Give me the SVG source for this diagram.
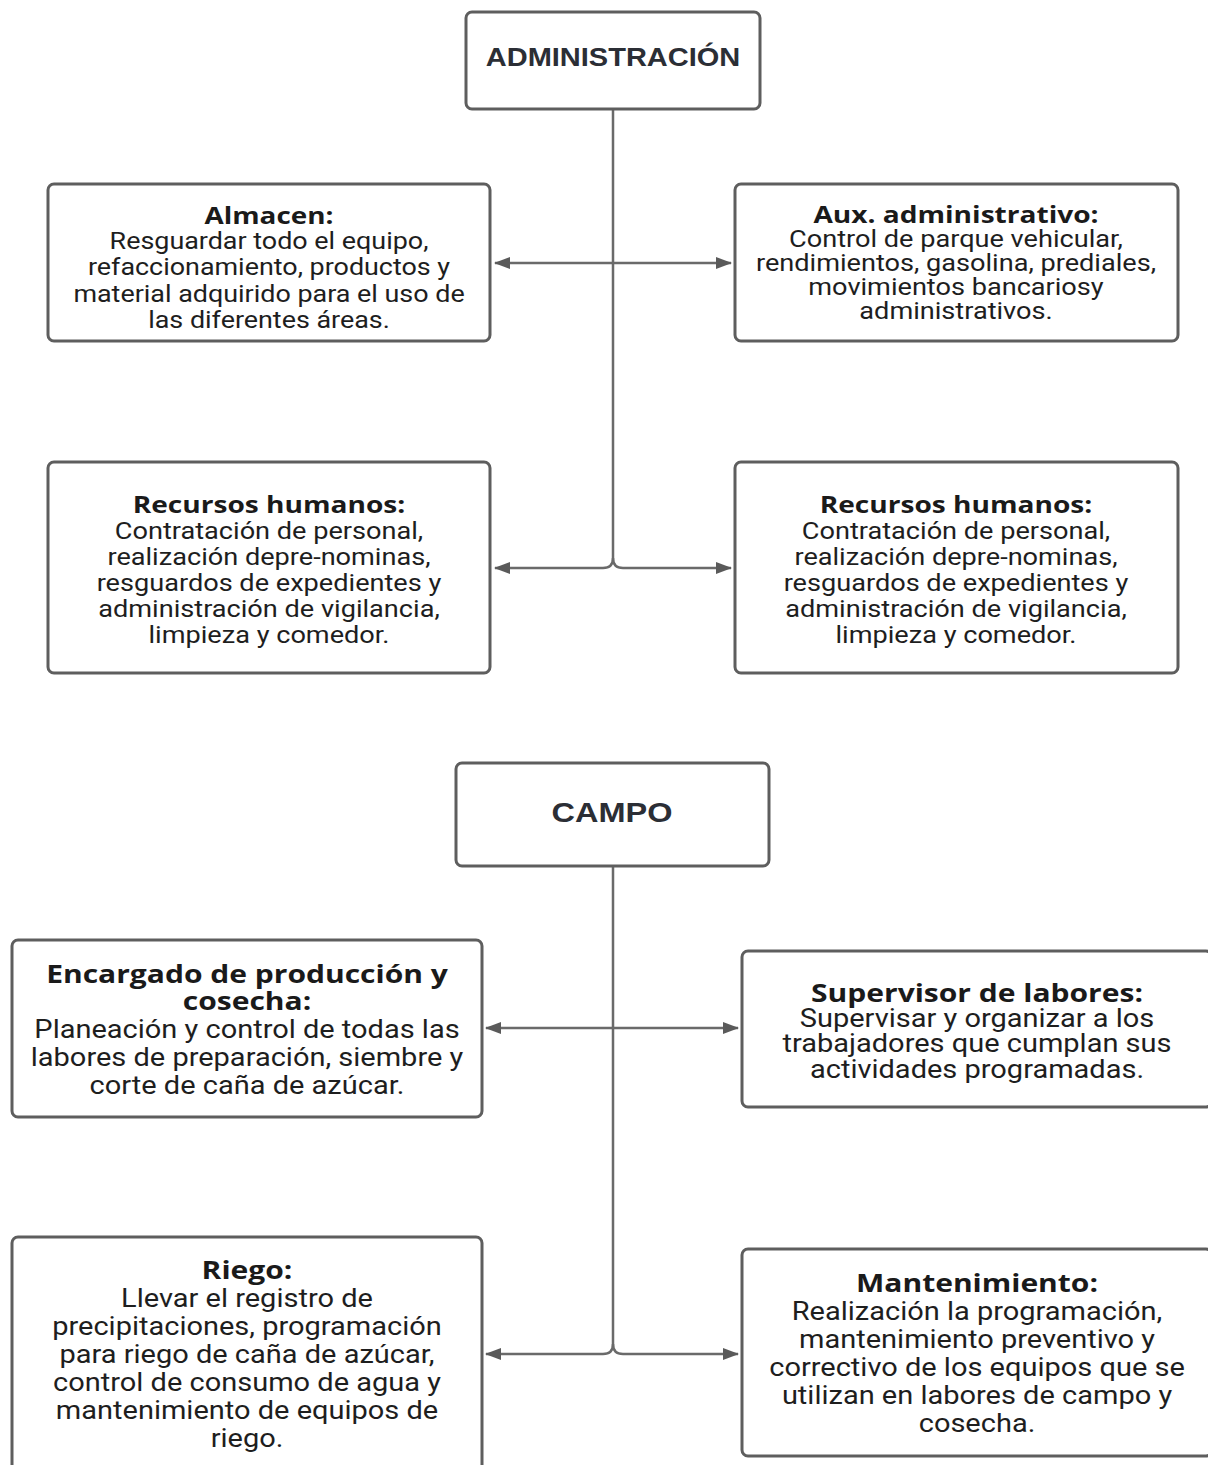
<svg xmlns="http://www.w3.org/2000/svg" width="1208" height="1465" viewBox="0 0 1208 1465">
<defs>
<marker id="arr" viewBox="0 0 16 12" refX="15" refY="6" markerWidth="16" markerHeight="12" markerUnits="userSpaceOnUse" orient="auto-start-reverse">
<path d="M0,0 L16,6 L0,12 Z" fill="#5a5a5a"/>
</marker>
<style>
.box{fill:#fff;stroke:#5e5e5e;stroke-width:3}
.main{font-family:"Liberation Sans",Arial,sans-serif;font-weight:700;font-size:26px;fill:#2b2e35;text-anchor:middle}
.h{font-family:"Open Sans","Noto Sans",sans-serif;font-weight:700;font-size:23px;fill:#1a1a1a;text-anchor:middle;transform:scale(1.035,1)}
.b{font-family:Roboto,"Noto Sans",sans-serif;font-size:23px;fill:#1e1e1e;text-anchor:middle}
.l .h,.l .b{font-size:25px}
.c{fill:none;stroke:#6a6a6a;stroke-width:2.5}
</style>
</defs>
<g id="connectors">
<path class="c" d="M613,109 V558"/>
<path class="c" d="M613,263 H495" marker-end="url(#arr)"/>
<path class="c" d="M613,263 H731" marker-end="url(#arr)"/>
<path class="c" d="M613,558 Q613,568 603,568 H495" marker-end="url(#arr)"/>
<path class="c" d="M613,558 Q613,568 623,568 H731" marker-end="url(#arr)"/>
<path class="c" d="M613,866 V1344"/>
<path class="c" d="M613,1028 H486" marker-end="url(#arr)"/>
<path class="c" d="M613,1028 H738" marker-end="url(#arr)"/>
<path class="c" d="M613,1344 Q613,1354 603,1354 H486" marker-end="url(#arr)"/>
<path class="c" d="M613,1344 Q613,1354 623,1354 H738" marker-end="url(#arr)"/>
</g>
<g id="administracion">
<rect class="box" x="466" y="12" width="294" height="97" rx="6"/>
<text class="main" transform="translate(613 0) scale(1.16 1)" x="0" y="66" style="font-size:25px">ADMINISTRACIÓN</text>
</g>
<g id="almacen">
<rect class="box" x="48" y="184" width="442" height="157" rx="6"/>
<g transform="translate(269 0) scale(1.17 1)">
<text class="h" x="0" y="224">Almacen:</text>
<text class="b" x="0" y="249">Resguardar todo el equipo,</text>
<text class="b" x="0" y="275">refaccionamiento, productos y</text>
<text class="b" x="0" y="302">material adquirido para el uso de</text>
<text class="b" x="0" y="328">las diferentes áreas.</text>
</g>
</g>
<g id="aux">
<rect class="box" x="735" y="184" width="443" height="157" rx="6"/>
<g transform="translate(956 0) scale(1.18 1)">
<text class="h" x="0" y="223">Aux. administrativo:</text>
<text class="b" x="0" y="247">Control de parque vehicular,</text>
<text class="b" x="0" y="271">rendimientos, gasolina, prediales,</text>
<text class="b" x="0" y="295">movimientos bancariosy</text>
<text class="b" x="0" y="319">administrativos.</text>
</g>
</g>
<g id="rh-left">
<rect class="box" x="48" y="462" width="442" height="211" rx="6"/>
<g transform="translate(269 0) scale(1.18 1)">
<text class="h" x="0" y="513">Recursos humanos:</text>
<text class="b" x="0" y="539">Contratación de personal,</text>
<text class="b" x="0" y="565">realización depre-nominas,</text>
<text class="b" x="0" y="591">resguardos de expedientes y</text>
<text class="b" x="0" y="617">administración de vigilancia,</text>
<text class="b" x="0" y="643">limpieza y comedor.</text>
</g>
</g>
<g id="rh-right">
<rect class="box" x="735" y="462" width="443" height="211" rx="6"/>
<g transform="translate(956 0) scale(1.18 1)">
<text class="h" x="0" y="513">Recursos humanos:</text>
<text class="b" x="0" y="539">Contratación de personal,</text>
<text class="b" x="0" y="565">realización depre-nominas,</text>
<text class="b" x="0" y="591">resguardos de expedientes y</text>
<text class="b" x="0" y="617">administración de vigilancia,</text>
<text class="b" x="0" y="643">limpieza y comedor.</text>
</g>
</g>
<g id="campo">
<rect class="box" x="456" y="763" width="313" height="103" rx="6"/>
<text class="main" transform="translate(612 0) scale(1.16 1)" x="0" y="822" style="font-size:28px">CAMPO</text>
</g>
<g id="encargado" class="l">
<rect class="box" x="12" y="940" width="470" height="177" rx="6"/>
<g transform="translate(247 0) scale(1.16 1)">
<text class="h" x="0" y="983">Encargado de producción y</text>
<text class="h" x="0" y="1010">cosecha:</text>
<text class="b" x="0" y="1038">Planeación y control de todas las</text>
<text class="b" x="0" y="1066">labores de preparación, siembre y</text>
<text class="b" x="0" y="1094">corte de caña de azúcar.</text>
</g>
</g>
<g id="supervisor" class="l">
<rect class="box" x="742" y="951" width="470" height="156" rx="6"/>
<g transform="translate(977 0) scale(1.16 1)">
<text class="h" x="0" y="1002">Supervisor de labores:</text>
<text class="b" x="0" y="1027">Supervisar y organizar a los</text>
<text class="b" x="0" y="1052">trabajadores que cumplan sus</text>
<text class="b" x="0" y="1078">actividades programadas.</text>
</g>
</g>
<g id="riego" class="l">
<rect class="box" x="12" y="1237" width="470" height="240" rx="6"/>
<g transform="translate(247 0) scale(1.16 1)">
<text class="h" x="0" y="1279">Riego:</text>
<text class="b" x="0" y="1307">Llevar el registro de</text>
<text class="b" x="0" y="1335">precipitaciones, programación</text>
<text class="b" x="0" y="1363">para riego de caña de azúcar,</text>
<text class="b" x="0" y="1391">control de consumo de agua y</text>
<text class="b" x="0" y="1419">mantenimiento de equipos de</text>
<text class="b" x="0" y="1447">riego.</text>
</g>
</g>
<g id="mantenimiento" class="l">
<rect class="box" x="742" y="1249" width="470" height="207" rx="6"/>
<g transform="translate(977 0) scale(1.16 1)">
<text class="h" x="0" y="1292">Mantenimiento:</text>
<text class="b" x="0" y="1320">Realización la programación,</text>
<text class="b" x="0" y="1348">mantenimiento preventivo y</text>
<text class="b" x="0" y="1376">correctivo de los equipos que se</text>
<text class="b" x="0" y="1404">utilizan en labores de campo y</text>
<text class="b" x="0" y="1432">cosecha.</text>
</g>
</g>
</svg>
